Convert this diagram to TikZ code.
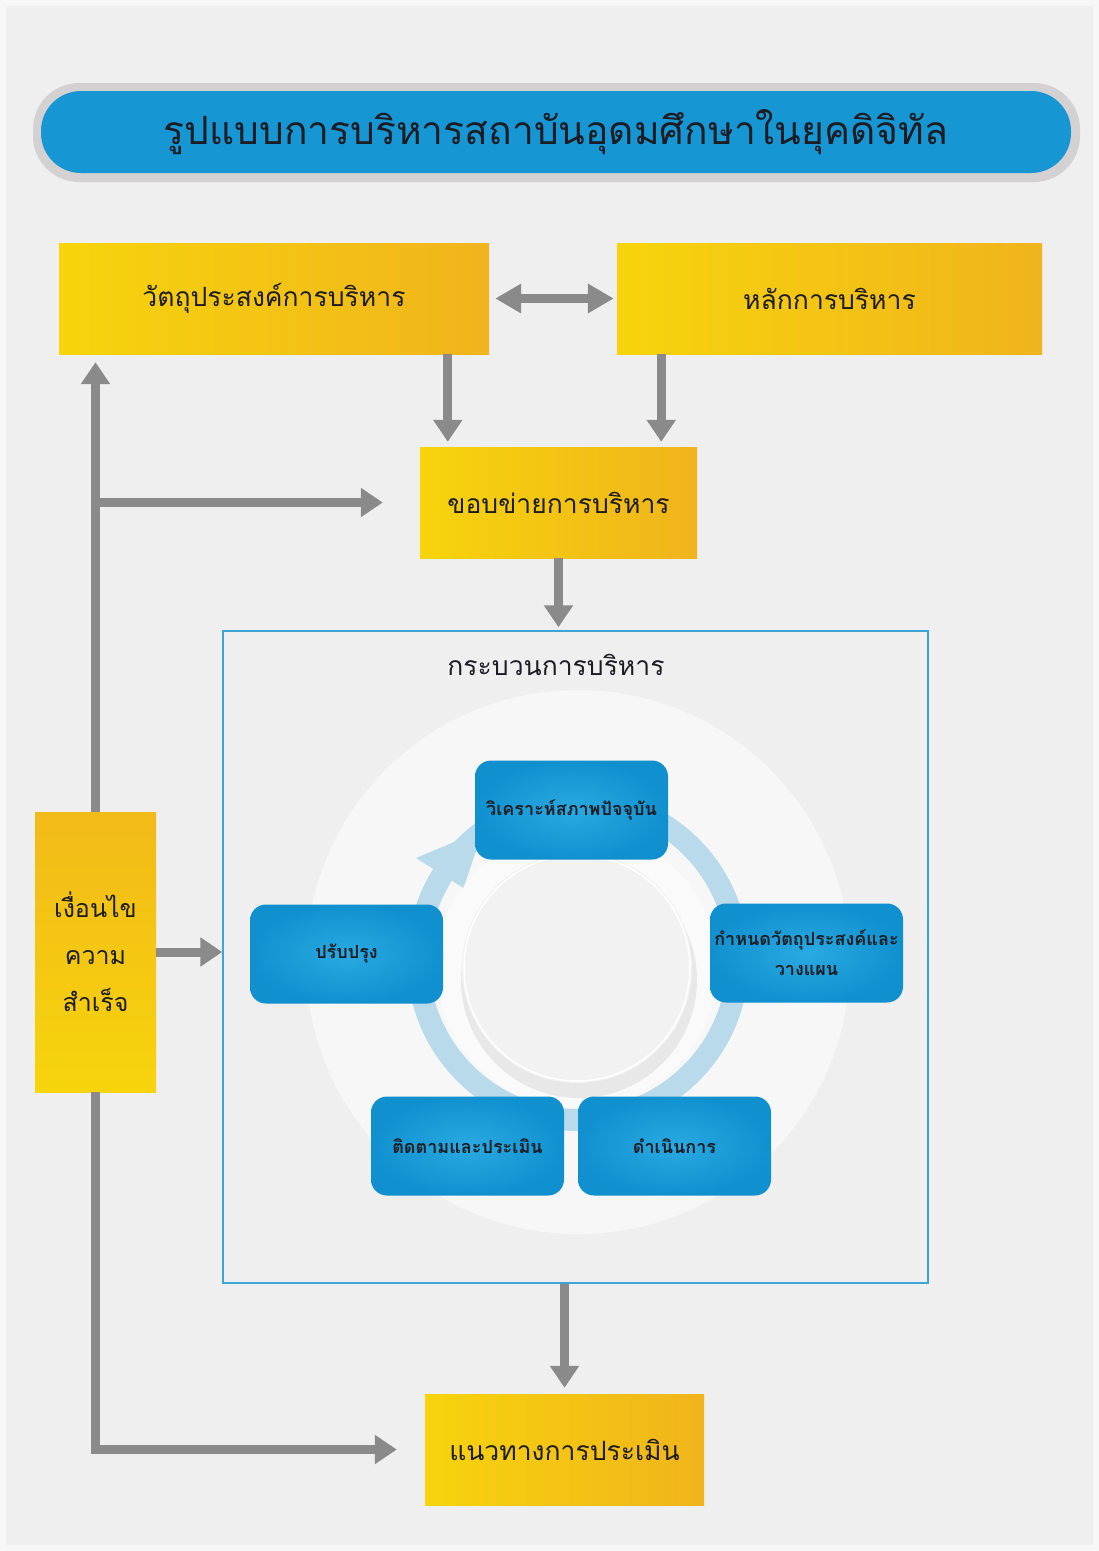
\documentclass[tikz,border=0pt]{standalone}
\usepackage{fontspec}
\newfontfamily\thai[Script=Thai]{Loma}
\usetikzlibrary{arrows.meta,calc,positioning}

\definecolor{ylwL}{HTML}{F7D40C}
\definecolor{ylwR}{HTML}{F0B41C}
\definecolor{bluL}{HTML}{2AAAE2}
\definecolor{bluD}{HTML}{1090CE}
\definecolor{ttlL}{HTML}{30ADE4}
\definecolor{ttlD}{HTML}{1796D4}
\definecolor{arrgray}{HTML}{8A8A8A}
\definecolor{framebl}{HTML}{3DA5D3}
\definecolor{ringbl}{HTML}{B8DAEB}
\definecolor{bggray}{HTML}{EFEFEF}
\definecolor{pillgray}{HTML}{D3D1D2}
\definecolor{txtdark}{HTML}{1C1C22}

\tikzset{
  ybox/.style={left color=ylwL, right color=ylwR, inner sep=0pt, align=center,
    text=txtdark, font=\thai\fontsize{26.5}{40}\selectfont},
  bbox/.style={rounded corners=16pt, inner color=bluL, outer color=bluD, inner sep=0pt,
    minimum width=193pt, minimum height=99pt, align=center, text=txtdark,
    font=\thai\bfseries\fontsize{18}{30}\selectfont},
  arr/.style={draw=arrgray, line width=9pt, -{Triangle[length=22pt,width=28pt]}},
}

\begin{document}
\begin{tikzpicture}[x=1pt,y=1pt]

	%%% Page
	\useasboundingbox (0,0) rectangle (1099,-1551);
	\fill[white!97!black] (0,0) rectangle (1099,-1551);
	\fill[bggray] (6,-6) rectangle (1093,-1545);

	%%% Title
	\node[fill=pillgray, rounded corners=46pt, minimum width=1047pt, minimum height=99pt] (pill) at (556.5,-132.5) {};
	\node[left color=ttlD, middle color=ttlL, right color=ttlD, rounded corners=40pt,
	      minimum width=1030pt, minimum height=82pt, text=txtdark,
	      font=\thai\fontsize{39}{48}\selectfont] (title) at (556,-132) {รูปแบบการบริหารสถาบันอุดมศึกษาในยุคดิจิทัล};

	%%% Upper boxes
	\node[ybox, minimum width=430pt, minimum height=111pt] (obj) at (274,-298.5) {วัตถุประสงค์การบริหาร};
	\node[ybox, minimum width=425pt, minimum height=111pt] (prin) at (829.5,-298.5) {หลักการบริหาร};
	\node[ybox, minimum width=277pt, minimum height=111pt] (fw) at (558.5,-502.5) {ขอบข่ายการบริหาร};

	%%% Process frame
	\node[draw=framebl, line width=1.5pt, minimum width=705pt, minimum height=652pt] (proc) at (575.5,-957) {};
	\node[text=txtdark, font=\thai\fontsize{26.5}{32}\selectfont] (proctitle) at (556,-665) {กระบวนการบริหาร};

	%%% Cycle background
	\coordinate (ctr) at (578,-962);
	\fill[white, opacity=0.5] (ctr) circle (272);
	\draw[ringbl, line width=22pt] (578,-960) circle (160);
	\fill[ringbl] (463.5,-888) -- (416,-858) -- (483,-830) -- cycle;
	\fill[white, opacity=0.45] (577,-968) circle (140);
	\fill[black, opacity=0.07] (579,-980) circle (118);
	\fill[white!95!black] (577,-968) circle (115);
	\draw[white, line width=1.5pt] (577,-968) circle (113);

	%%% Cycle steps
	\node[bbox] (analyse) at (571.5,-810) {วิเคราะห์สภาพปัจจุบัน};
	\node[bbox] (plan) at (806.5,-953) {กำหนดวัตถุประสงค์และ\\วางแผน};
	\node[bbox] (act) at (674.5,-1146) {ดำเนินการ};
	\node[bbox] (monitor) at (467.5,-1146) {ติดตามและประเมิน};
	\node[bbox] (improve) at (346.5,-954) {ปรับปรุง};

	%%% Side and bottom boxes
	\node[ybox, minimum width=121pt, minimum height=280pt, top color=ylwR!80!ylwL, bottom color=ylwL,
	      font=\thai\fontsize{25}{47}\selectfont] (cond) at (95.5,-952) {เงื่อนไข\\ความ\\สำเร็จ};
	\node[ybox, minimum width=279pt, minimum height=111pt] (eval) at (564.5,-1449.5) {แนวทางการประเมิน};

	%%% Arrows
	\draw[draw=arrgray, line width=9pt, {Triangle[length=26pt,width=28pt]}-{Triangle[length=26pt,width=28pt]},
	      shorten <=6pt, shorten >=3pt] (obj.east) -- (prin.west);
	\coordinate (fwa) at ([xshift=28pt]fw.north west);
	\coordinate (fwb) at ([xshift=-36pt]fw.north east);
	\draw[arr, shorten >=5pt] (fwa |- obj.south) -- (fwa);
	\draw[arr, shorten >=5pt] (fwb |- prin.south) -- (fwb);
	\draw[arr, shorten >=3pt] (fw.south) -- (fw.south |- proc.north);
	\draw[arr, shorten >=6pt] (eval.north |- proc.south) -- (eval.north);
	\draw[arr] (cond.east) -- (cond.east -| proc.west);

	%%% Feedback line
	\draw[arr, shorten >=8pt] (cond.north) -- (cond.north |- obj.south);
	\draw[arr, shorten >=37pt, shorten <=-4.5pt] (cond.north |- fw.west) -- (fw.west);
	\draw[arr, shorten >=28pt] (cond.south) |- (eval.west);

\end{tikzpicture}
\end{document}
